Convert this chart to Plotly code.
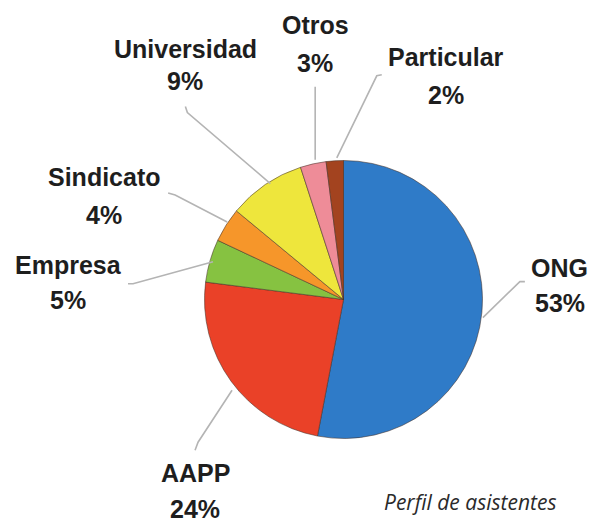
import math
import plotly.graph_objects as go

# ---- data ----
categories = ["ONG", "AAPP", "Empresa", "Sindicato", "Universidad", "Otros", "Particular"]
values = [53, 24, 5, 4, 9, 3, 2]
pct_labels = ["53%", "24%", "5%", "4%", "9%", "3%", "2%"]
colors = ["#2f7bc8", "#ea4128", "#86c241", "#f6962a", "#eee63c", "#ee8c98", "#a3431f"]
caption = "Perfil de asistentes"

# ---- layout geometry (pixels, page has an 8px body margin) ----
OFF = 8
W, H = 602 - OFF, 522 - OFF
CX, CY, R = 343.5 - OFF, 299.5 - OFF, 139

# leader-line paths as pixel offsets (screen, y down) from the slice's mid-edge point
leader_paths = [
    [(1, 5), (38, -31), (43, -31)],
    [(1, 9), (-33, 61), (-36, 69)],
    [(3, 1), (-77, 23), (-82, 23)],
    [(1, -3), (-51, -30), (-58, -32)],
    [(5, -1), (-78, -72), (-80, -78)],
    [(2, -4), (2, -77)],
    [(2, -3), (42, -85), (47, -86)],
]
# label centre offsets (screen px) from mid-edge point: (dx, dy_name, dy_pct)
label_offsets = [
    (78, -45, -10),
    (-36, 92, 128),
    (-142, 4, 39),
    (-122, -48, -10),
    (-80, -136, -104),
    (2, -139, -101),
    (111, -104, -66),
]

fig = go.Figure(go.Pie(
    labels=categories,
    values=values,
    sort=False,
    direction="clockwise",
    rotation=0,
    marker=dict(colors=colors, line=dict(color="rgba(70,50,40,0.55)", width=1)),
    textinfo="none",
    hoverinfo="label+percent",
    showlegend=False,
    domain=dict(x=[(CX - R) / W, (CX + R) / W], y=[(H - CY - R) / H, (H - CY + R) / H]),
))

total = sum(values)
cum = 0
shapes = []
annotations = []
font_lbl = dict(family="Arial, 'Liberation Sans', sans-serif", size=25, color="#1e1e1e", weight=700)
for i, v in enumerate(values):
    mid = (cum + v / 2) / total
    cum += v
    th = 2 * math.pi * mid
    px = CX + R * math.sin(th)
    py = CY - R * math.cos(th)
    xa, ya = px / W, 1 - py / H
    pts = leader_paths[i]
    path = "M " + " L ".join(f"{dx},{-dy}" for dx, dy in pts)
    shapes.append(dict(type="path", xref="paper", yref="paper", xsizemode="pixel", ysizemode="pixel",
                       xanchor=xa, yanchor=ya, path=path,
                       line=dict(color="#b4b4b4", width=1.6)))
    dx, dyn, dyp = label_offsets[i]
    annotations.append(dict(x=xa, y=ya, xref="paper", yref="paper", text=categories[i], showarrow=False,
                            xshift=dx, yshift=-dyn, xanchor="center", yanchor="middle", font=font_lbl))
    annotations.append(dict(x=xa, y=ya, xref="paper", yref="paper", text=pct_labels[i], showarrow=False,
                            xshift=dx, yshift=-dyp, xanchor="center", yanchor="middle", font=font_lbl))

annotations.append(dict(x=(470 - OFF) / W, y=1 - (502 - OFF) / H, xref="paper", yref="paper", text=caption,
                        showarrow=False, xanchor="center", yanchor="middle",
                        font=dict(family="Open Sans, Noto Sans, sans-serif", size=21, color="#2a2a2a",
                                  style="italic")))

fig.update_layout(width=W, height=H, margin=dict(l=0, r=0, t=0, b=0),
                  paper_bgcolor="white", plot_bgcolor="white",
                  shapes=shapes, annotations=annotations)
fig.write_html("out.html")
